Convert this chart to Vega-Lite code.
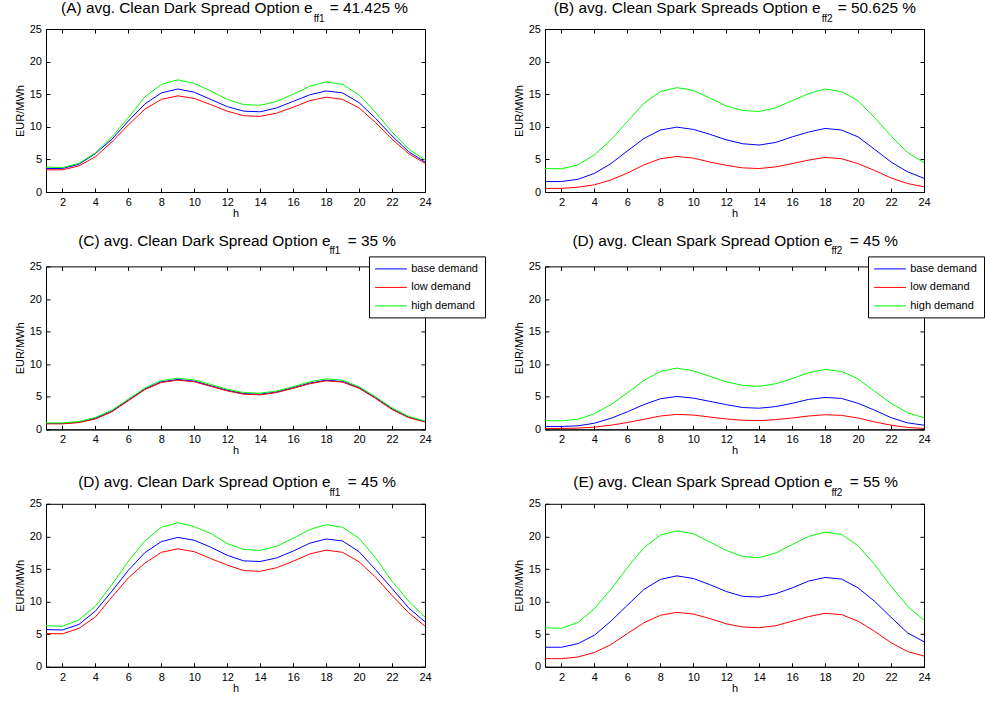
{
"$schema":"https://vega.github.io/schema/vega-lite/v6.json",
"background":"white",
"padding":{"left":13,"top":0,"right":5,"bottom":5},
"config":{
 "font":"Liberation Sans",
 "view":{"stroke":"black","strokeWidth":1},
 "title":{"anchor":"end","frame":"group","fontSize":15.4,"fontWeight":"normal","subtitleFontSize":10,"subtitlePadding":-2.5,"offset":-0.5,"color":"black","subtitleColor":"black","font":"Liberation Sans","subtitleFont":"Liberation Sans"},
 "axis":{"labelFontSize":11,"labelColor":"black","titleFontSize":11,"titleFontWeight":"normal","titleColor":"black","tickColor":"black","domainColor":"black","tickSize":-4,"labelPadding":8.5,"grid":false,"labelFlush":false,"labelFont":"Liberation Sans","titleFont":"Liberation Sans"},
 "axisX":{"titlePadding":0},
 "axisY":{"titlePadding":4},
 "line":{"strokeWidth":1}
},
"columns":2,
"spacing":{"row":74.4,"column":120},
"bounds":"flush",
"resolve":{"scale":{"color":"independent"},"legend":{"color":"independent"}},
"concat":[
{
 "width":379,"height":163,
 "title":{"text":"(A) avg. Clean Dark Spread Option e\u00a0\u00a0\u00a0\u00a0= 41.425 %","subtitle":"ff1\u00a0\u00a0\u00a0\u00a0\u00a0\u00a0\u00a0\u00a0\u00a0\u00a0\u00a0\u00a0\u00a0\u00a0\u00a0\u00a0\u00a0\u00a0\u00a0\u00a0\u00a0\u00a0\u00a0\u00a0\u00a0\u00a0\u00a0\u00a0\u00a0\u00a0\u200b","dx":-17},
 "data":{"values":[
{"h":1,"s":"base demand","v":3.6},{"h":2,"s":"base demand","v":3.6},{"h":3,"s":"base demand","v":4.25},{"h":4,"s":"base demand","v":5.9},{"h":5,"s":"base demand","v":8.1},{"h":6,"s":"base demand","v":10.9},{"h":7,"s":"base demand","v":13.5},{"h":8,"s":"base demand","v":15.2},{"h":9,"s":"base demand","v":15.8},{"h":10,"s":"base demand","v":15.3},{"h":11,"s":"base demand","v":14.2},{"h":12,"s":"base demand","v":13.1},{"h":13,"s":"base demand","v":12.4},{"h":14,"s":"base demand","v":12.3},{"h":15,"s":"base demand","v":12.9},{"h":16,"s":"base demand","v":13.9},{"h":17,"s":"base demand","v":14.9},{"h":18,"s":"base demand","v":15.5},{"h":19,"s":"base demand","v":15.2},{"h":20,"s":"base demand","v":13.7},{"h":21,"s":"base demand","v":11.3},{"h":22,"s":"base demand","v":8.6},{"h":23,"s":"base demand","v":6.2},{"h":24,"s":"base demand","v":4.6},
{"h":1,"s":"low demand","v":3.4},{"h":2,"s":"low demand","v":3.4},{"h":3,"s":"low demand","v":4.0},{"h":4,"s":"low demand","v":5.4},{"h":5,"s":"low demand","v":7.7},{"h":6,"s":"low demand","v":10.3},{"h":7,"s":"low demand","v":12.7},{"h":8,"s":"low demand","v":14.2},{"h":9,"s":"low demand","v":14.75},{"h":10,"s":"low demand","v":14.35},{"h":11,"s":"low demand","v":13.4},{"h":12,"s":"low demand","v":12.4},{"h":13,"s":"low demand","v":11.7},{"h":14,"s":"low demand","v":11.6},{"h":15,"s":"low demand","v":12.1},{"h":16,"s":"low demand","v":13.0},{"h":17,"s":"low demand","v":14.0},{"h":18,"s":"low demand","v":14.55},{"h":19,"s":"low demand","v":14.2},{"h":20,"s":"low demand","v":12.9},{"h":21,"s":"low demand","v":10.65},{"h":22,"s":"low demand","v":8.1},{"h":23,"s":"low demand","v":5.9},{"h":24,"s":"low demand","v":4.4},
{"h":1,"s":"high demand","v":3.84},{"h":2,"s":"high demand","v":3.74},{"h":3,"s":"high demand","v":4.4},{"h":4,"s":"high demand","v":6.0},{"h":5,"s":"high demand","v":8.45},{"h":6,"s":"high demand","v":11.4},{"h":7,"s":"high demand","v":14.6},{"h":8,"s":"high demand","v":16.5},{"h":9,"s":"high demand","v":17.2},{"h":10,"s":"high demand","v":16.65},{"h":11,"s":"high demand","v":15.5},{"h":12,"s":"high demand","v":14.2},{"h":13,"s":"high demand","v":13.4},{"h":14,"s":"high demand","v":13.3},{"h":15,"s":"high demand","v":13.9},{"h":16,"s":"high demand","v":15.0},{"h":17,"s":"high demand","v":16.2},{"h":18,"s":"high demand","v":16.9},{"h":19,"s":"high demand","v":16.5},{"h":20,"s":"high demand","v":14.9},{"h":21,"s":"high demand","v":12.2},{"h":22,"s":"high demand","v":9.2},{"h":23,"s":"high demand","v":6.6},{"h":24,"s":"high demand","v":4.9}
 ]},
 "layer":[
  {"mark":{"type":"line","strokeWidth":1},
   "encoding":{
    "x":{"field":"h","type":"quantitative","scale":{"domain":[1,24],"nice":false,"zero":false},"axis":{"values":[2,4,6,8,10,12,14,16,18,20,22,24],"title":"h"}},
    "y":{"field":"v","type":"quantitative","scale":{"domain":[0,25],"nice":false},"axis":{"values":[0,5,10,15,20,25],"title":"EUR/MWh"}},
    "color":{"field":"s","type":"nominal","scale":{"domain":["base demand","low demand","high demand"],"range":["#0000ff","#ff0000","#00ff00"]},"legend":null}}},
  {"mark":{"type":"line","opacity":0},
   "encoding":{
    "x":{"field":"h","type":"quantitative","axis":{"orient":"top","values":[2,4,6,8,10,12,14,16,18,20,22,24],"labels":false,"title":null,"domain":false}},
    "y":{"field":"v","type":"quantitative","axis":{"orient":"right","values":[0,5,10,15,20,25],"labels":false,"title":null,"domain":false}}}}
 ],
 "resolve":{"axis":{"x":"independent","y":"independent"}}
},
{
 "width":379,"height":163,
 "title":{"text":"(B) avg. Clean Spark Spreads Option e\u00a0\u00a0\u00a0\u00a0= 50.625 %","subtitle":"ff2\u00a0\u00a0\u00a0\u00a0\u00a0\u00a0\u00a0\u00a0\u00a0\u00a0\u00a0\u00a0\u00a0\u00a0\u00a0\u00a0\u00a0\u00a0\u00a0\u00a0\u00a0\u00a0\u00a0\u00a0\u00a0\u00a0\u00a0\u00a0\u00a0\u00a0\u200b","dx":-8},
 "data":{"values":[
{"h":1,"s":"base demand","v":1.6},{"h":2,"s":"base demand","v":1.6},{"h":3,"s":"base demand","v":1.95},{"h":4,"s":"base demand","v":2.85},{"h":5,"s":"base demand","v":4.35},{"h":6,"s":"base demand","v":6.3},{"h":7,"s":"base demand","v":8.2},{"h":8,"s":"base demand","v":9.5},{"h":9,"s":"base demand","v":9.95},{"h":10,"s":"base demand","v":9.6},{"h":11,"s":"base demand","v":8.85},{"h":12,"s":"base demand","v":8.0},{"h":13,"s":"base demand","v":7.4},{"h":14,"s":"base demand","v":7.2},{"h":15,"s":"base demand","v":7.6},{"h":16,"s":"base demand","v":8.45},{"h":17,"s":"base demand","v":9.2},{"h":18,"s":"base demand","v":9.75},{"h":19,"s":"base demand","v":9.5},{"h":20,"s":"base demand","v":8.45},{"h":21,"s":"base demand","v":6.55},{"h":22,"s":"base demand","v":4.6},{"h":23,"s":"base demand","v":3.1},{"h":24,"s":"base demand","v":2.1},
{"h":1,"s":"low demand","v":0.55},{"h":2,"s":"low demand","v":0.55},{"h":3,"s":"low demand","v":0.75},{"h":4,"s":"low demand","v":1.1},{"h":5,"s":"low demand","v":1.85},{"h":6,"s":"low demand","v":2.9},{"h":7,"s":"low demand","v":4.15},{"h":8,"s":"low demand","v":5.1},{"h":9,"s":"low demand","v":5.45},{"h":10,"s":"low demand","v":5.2},{"h":11,"s":"low demand","v":4.6},{"h":12,"s":"low demand","v":4.1},{"h":13,"s":"low demand","v":3.7},{"h":14,"s":"low demand","v":3.6},{"h":15,"s":"low demand","v":3.85},{"h":16,"s":"low demand","v":4.35},{"h":17,"s":"low demand","v":4.9},{"h":18,"s":"low demand","v":5.3},{"h":19,"s":"low demand","v":5.1},{"h":20,"s":"low demand","v":4.35},{"h":21,"s":"low demand","v":3.3},{"h":22,"s":"low demand","v":2.15},{"h":23,"s":"low demand","v":1.3},{"h":24,"s":"low demand","v":0.8},
{"h":1,"s":"high demand","v":3.6},{"h":2,"s":"high demand","v":3.55},{"h":3,"s":"high demand","v":4.15},{"h":4,"s":"high demand","v":5.7},{"h":5,"s":"high demand","v":8.0},{"h":6,"s":"high demand","v":10.8},{"h":7,"s":"high demand","v":13.6},{"h":8,"s":"high demand","v":15.4},{"h":9,"s":"high demand","v":16.0},{"h":10,"s":"high demand","v":15.6},{"h":11,"s":"high demand","v":14.4},{"h":12,"s":"high demand","v":13.2},{"h":13,"s":"high demand","v":12.5},{"h":14,"s":"high demand","v":12.35},{"h":15,"s":"high demand","v":12.9},{"h":16,"s":"high demand","v":14.0},{"h":17,"s":"high demand","v":15.1},{"h":18,"s":"high demand","v":15.8},{"h":19,"s":"high demand","v":15.4},{"h":20,"s":"high demand","v":14.0},{"h":21,"s":"high demand","v":11.4},{"h":22,"s":"high demand","v":8.6},{"h":23,"s":"high demand","v":6.05},{"h":24,"s":"high demand","v":4.5}
 ]},
 "layer":[
  {"mark":{"type":"line","strokeWidth":1},
   "encoding":{
    "x":{"field":"h","type":"quantitative","scale":{"domain":[1,24],"nice":false,"zero":false},"axis":{"values":[2,4,6,8,10,12,14,16,18,20,22,24],"title":"h"}},
    "y":{"field":"v","type":"quantitative","scale":{"domain":[0,25],"nice":false},"axis":{"values":[0,5,10,15,20,25],"title":"EUR/MWh"}},
    "color":{"field":"s","type":"nominal","scale":{"domain":["base demand","low demand","high demand"],"range":["#0000ff","#ff0000","#00ff00"]},"legend":null}}},
  {"mark":{"type":"line","opacity":0},
   "encoding":{
    "x":{"field":"h","type":"quantitative","axis":{"orient":"top","values":[2,4,6,8,10,12,14,16,18,20,22,24],"labels":false,"title":null,"domain":false}},
    "y":{"field":"v","type":"quantitative","axis":{"orient":"right","values":[0,5,10,15,20,25],"labels":false,"title":null,"domain":false}}}}
 ],
 "resolve":{"axis":{"x":"independent","y":"independent"}}
},
{
 "width":379,"height":163,
 "title":{"text":"(C) avg. Clean Dark Spread Option e\u00a0\u00a0\u00a0\u00a0= 35 %","subtitle":"ff1\u00a0\u00a0\u00a0\u00a0\u00a0\u00a0\u00a0\u00a0\u00a0\u00a0\u00a0\u00a0\u00a0\u00a0\u00a0\u00a0\u00a0\u00a0\u00a0\u00a0\u200b","dx":-29},
 "data":{"values":[
{"h":1,"s":"base demand","v":0.9},{"h":2,"s":"base demand","v":0.9},{"h":3,"s":"base demand","v":1.1},{"h":4,"s":"base demand","v":1.7},{"h":5,"s":"base demand","v":2.8},{"h":6,"s":"base demand","v":4.5},{"h":7,"s":"base demand","v":6.2},{"h":8,"s":"base demand","v":7.3},{"h":9,"s":"base demand","v":7.65},{"h":10,"s":"base demand","v":7.4},{"h":11,"s":"base demand","v":6.7},{"h":12,"s":"base demand","v":6.0},{"h":13,"s":"base demand","v":5.5},{"h":14,"s":"base demand","v":5.4},{"h":15,"s":"base demand","v":5.75},{"h":16,"s":"base demand","v":6.4},{"h":17,"s":"base demand","v":7.1},{"h":18,"s":"base demand","v":7.55},{"h":19,"s":"base demand","v":7.35},{"h":20,"s":"base demand","v":6.4},{"h":21,"s":"base demand","v":4.85},{"h":22,"s":"base demand","v":3.15},{"h":23,"s":"base demand","v":1.9},{"h":24,"s":"base demand","v":1.2},
{"h":1,"s":"low demand","v":0.85},{"h":2,"s":"low demand","v":0.85},{"h":3,"s":"low demand","v":1.05},{"h":4,"s":"low demand","v":1.6},{"h":5,"s":"low demand","v":2.7},{"h":6,"s":"low demand","v":4.4},{"h":7,"s":"low demand","v":6.1},{"h":8,"s":"low demand","v":7.2},{"h":9,"s":"low demand","v":7.55},{"h":10,"s":"low demand","v":7.3},{"h":11,"s":"low demand","v":6.6},{"h":12,"s":"low demand","v":5.9},{"h":13,"s":"low demand","v":5.4},{"h":14,"s":"low demand","v":5.3},{"h":15,"s":"low demand","v":5.65},{"h":16,"s":"low demand","v":6.3},{"h":17,"s":"low demand","v":7.0},{"h":18,"s":"low demand","v":7.45},{"h":19,"s":"low demand","v":7.25},{"h":20,"s":"low demand","v":6.3},{"h":21,"s":"low demand","v":4.75},{"h":22,"s":"low demand","v":3.05},{"h":23,"s":"low demand","v":1.8},{"h":24,"s":"low demand","v":1.15},
{"h":1,"s":"high demand","v":1.0},{"h":2,"s":"high demand","v":1.0},{"h":3,"s":"high demand","v":1.2},{"h":4,"s":"high demand","v":1.85},{"h":5,"s":"high demand","v":2.95},{"h":6,"s":"high demand","v":4.65},{"h":7,"s":"high demand","v":6.35},{"h":8,"s":"high demand","v":7.5},{"h":9,"s":"high demand","v":7.85},{"h":10,"s":"high demand","v":7.6},{"h":11,"s":"high demand","v":6.9},{"h":12,"s":"high demand","v":6.15},{"h":13,"s":"high demand","v":5.65},{"h":14,"s":"high demand","v":5.55},{"h":15,"s":"high demand","v":5.9},{"h":16,"s":"high demand","v":6.55},{"h":17,"s":"high demand","v":7.3},{"h":18,"s":"high demand","v":7.75},{"h":19,"s":"high demand","v":7.55},{"h":20,"s":"high demand","v":6.55},{"h":21,"s":"high demand","v":5.0},{"h":22,"s":"high demand","v":3.3},{"h":23,"s":"high demand","v":2.0},{"h":24,"s":"high demand","v":1.3}
 ]},
 "layer":[
  {"mark":{"type":"line","strokeWidth":1},
   "encoding":{
    "x":{"field":"h","type":"quantitative","scale":{"domain":[1,24],"nice":false,"zero":false},"axis":{"values":[2,4,6,8,10,12,14,16,18,20,22,24],"title":"h"}},
    "y":{"field":"v","type":"quantitative","scale":{"domain":[0,25],"nice":false},"axis":{"values":[0,5,10,15,20,25],"title":"EUR/MWh"}},
    "color":{"field":"s","type":"nominal","scale":{"domain":["base demand","low demand","high demand"],"range":["#0000ff","#ff0000","#00ff00"]},
     "legend":{"orient":"none","legendX":323,"legendY":-10,"title":null,"strokeColor":"black","fillColor":"white","padding":6.5,"symbolType":"M-2.9,0H2.9","symbolSize":121,"symbolStrokeWidth":1,"symbolOffset":9.5,"labelFontSize":11,"labelOffset":14.2,"rowPadding":7.5,"labelColor":"black","cornerRadius":0}}}},
  {"mark":{"type":"line","opacity":0},
   "encoding":{
    "x":{"field":"h","type":"quantitative","axis":{"orient":"top","values":[2,4,6,8,10,12,14,16,18,20,22,24],"labels":false,"title":null,"domain":false}},
    "y":{"field":"v","type":"quantitative","axis":{"orient":"right","values":[0,5,10,15,20,25],"labels":false,"title":null,"domain":false}}}}
 ],
 "resolve":{"axis":{"x":"independent","y":"independent"}}
},
{
 "width":379,"height":163,
 "title":{"text":"(D) avg. Clean Spark Spread Option e\u00a0\u00a0\u00a0\u00a0= 45 %","subtitle":"ff2\u00a0\u00a0\u00a0\u00a0\u00a0\u00a0\u00a0\u00a0\u00a0\u00a0\u00a0\u00a0\u00a0\u00a0\u00a0\u00a0\u00a0\u00a0\u00a0\u00a0\u200b","dx":-26},
 "data":{"values":[
{"h":1,"s":"base demand","v":0.45},{"h":2,"s":"base demand","v":0.45},{"h":3,"s":"base demand","v":0.55},{"h":4,"s":"base demand","v":0.95},{"h":5,"s":"base demand","v":1.7},{"h":6,"s":"base demand","v":2.7},{"h":7,"s":"base demand","v":3.8},{"h":8,"s":"base demand","v":4.7},{"h":9,"s":"base demand","v":5.05},{"h":10,"s":"base demand","v":4.8},{"h":11,"s":"base demand","v":4.3},{"h":12,"s":"base demand","v":3.8},{"h":13,"s":"base demand","v":3.35},{"h":14,"s":"base demand","v":3.25},{"h":15,"s":"base demand","v":3.5},{"h":16,"s":"base demand","v":4.0},{"h":17,"s":"base demand","v":4.6},{"h":18,"s":"base demand","v":4.9},{"h":19,"s":"base demand","v":4.75},{"h":20,"s":"base demand","v":4.0},{"h":21,"s":"base demand","v":2.95},{"h":22,"s":"base demand","v":1.8},{"h":23,"s":"base demand","v":1.0},{"h":24,"s":"base demand","v":0.65},
{"h":1,"s":"low demand","v":0.15},{"h":2,"s":"low demand","v":0.15},{"h":3,"s":"low demand","v":0.2},{"h":4,"s":"low demand","v":0.35},{"h":5,"s":"low demand","v":0.65},{"h":6,"s":"low demand","v":1.05},{"h":7,"s":"low demand","v":1.55},{"h":8,"s":"low demand","v":2.05},{"h":9,"s":"low demand","v":2.3},{"h":10,"s":"low demand","v":2.2},{"h":11,"s":"low demand","v":1.9},{"h":12,"s":"low demand","v":1.6},{"h":13,"s":"low demand","v":1.4},{"h":14,"s":"low demand","v":1.35},{"h":15,"s":"low demand","v":1.5},{"h":16,"s":"low demand","v":1.75},{"h":17,"s":"low demand","v":2.05},{"h":18,"s":"low demand","v":2.25},{"h":19,"s":"low demand","v":2.15},{"h":20,"s":"low demand","v":1.75},{"h":21,"s":"low demand","v":1.15},{"h":22,"s":"low demand","v":0.65},{"h":23,"s":"low demand","v":0.3},{"h":24,"s":"low demand","v":0.15},
{"h":1,"s":"high demand","v":1.35},{"h":2,"s":"high demand","v":1.3},{"h":3,"s":"high demand","v":1.55},{"h":4,"s":"high demand","v":2.4},{"h":5,"s":"high demand","v":3.8},{"h":6,"s":"high demand","v":5.6},{"h":7,"s":"high demand","v":7.5},{"h":8,"s":"high demand","v":8.9},{"h":9,"s":"high demand","v":9.4},{"h":10,"s":"high demand","v":9.0},{"h":11,"s":"high demand","v":8.15},{"h":12,"s":"high demand","v":7.3},{"h":13,"s":"high demand","v":6.75},{"h":14,"s":"high demand","v":6.6},{"h":15,"s":"high demand","v":7.0},{"h":16,"s":"high demand","v":7.8},{"h":17,"s":"high demand","v":8.7},{"h":18,"s":"high demand","v":9.2},{"h":19,"s":"high demand","v":8.9},{"h":20,"s":"high demand","v":7.75},{"h":21,"s":"high demand","v":5.85},{"h":22,"s":"high demand","v":4.0},{"h":23,"s":"high demand","v":2.55},{"h":24,"s":"high demand","v":1.8}
 ]},
 "layer":[
  {"mark":{"type":"line","strokeWidth":1},
   "encoding":{
    "x":{"field":"h","type":"quantitative","scale":{"domain":[1,24],"nice":false,"zero":false},"axis":{"values":[2,4,6,8,10,12,14,16,18,20,22,24],"title":"h"}},
    "y":{"field":"v","type":"quantitative","scale":{"domain":[0,25],"nice":false},"axis":{"values":[0,5,10,15,20,25],"title":"EUR/MWh"}},
    "color":{"field":"s","type":"nominal","scale":{"domain":["base demand","low demand","high demand"],"range":["#0000ff","#ff0000","#00ff00"]},
     "legend":{"orient":"none","legendX":323,"legendY":-10,"title":null,"strokeColor":"black","fillColor":"white","padding":6.5,"symbolType":"M-2.9,0H2.9","symbolSize":121,"symbolStrokeWidth":1,"symbolOffset":9.5,"labelFontSize":11,"labelOffset":14.2,"rowPadding":7.5,"labelColor":"black","cornerRadius":0}}}},
  {"mark":{"type":"line","opacity":0},
   "encoding":{
    "x":{"field":"h","type":"quantitative","axis":{"orient":"top","values":[2,4,6,8,10,12,14,16,18,20,22,24],"labels":false,"title":null,"domain":false}},
    "y":{"field":"v","type":"quantitative","axis":{"orient":"right","values":[0,5,10,15,20,25],"labels":false,"title":null,"domain":false}}}}
 ],
 "resolve":{"axis":{"x":"independent","y":"independent"}}
},
{
 "width":379,"height":163,
 "title":{"text":"(D) avg. Clean Dark Spread Option e\u00a0\u00a0\u00a0\u00a0= 45 %","subtitle":"ff1\u00a0\u00a0\u00a0\u00a0\u00a0\u00a0\u00a0\u00a0\u00a0\u00a0\u00a0\u00a0\u00a0\u00a0\u00a0\u00a0\u00a0\u00a0\u00a0\u00a0\u200b","dx":-29},
 "data":{"values":[
{"h":1,"s":"base demand","v":5.7},{"h":2,"s":"base demand","v":5.65},{"h":3,"s":"base demand","v":6.5},{"h":4,"s":"base demand","v":8.55},{"h":5,"s":"base demand","v":11.6},{"h":6,"s":"base demand","v":14.8},{"h":7,"s":"base demand","v":17.5},{"h":8,"s":"base demand","v":19.2},{"h":9,"s":"base demand","v":19.85},{"h":10,"s":"base demand","v":19.4},{"h":11,"s":"base demand","v":18.35},{"h":12,"s":"base demand","v":17.1},{"h":13,"s":"base demand","v":16.25},{"h":14,"s":"base demand","v":16.15},{"h":15,"s":"base demand","v":16.7},{"h":16,"s":"base demand","v":17.75},{"h":17,"s":"base demand","v":18.95},{"h":18,"s":"base demand","v":19.6},{"h":19,"s":"base demand","v":19.3},{"h":20,"s":"base demand","v":17.65},{"h":21,"s":"base demand","v":14.9},{"h":22,"s":"base demand","v":12.0},{"h":23,"s":"base demand","v":9.05},{"h":24,"s":"base demand","v":6.9},
{"h":1,"s":"low demand","v":5.1},{"h":2,"s":"low demand","v":5.05},{"h":3,"s":"low demand","v":5.9},{"h":4,"s":"low demand","v":7.65},{"h":5,"s":"low demand","v":10.7},{"h":6,"s":"low demand","v":13.65},{"h":7,"s":"low demand","v":15.9},{"h":8,"s":"low demand","v":17.55},{"h":9,"s":"low demand","v":18.1},{"h":10,"s":"low demand","v":17.65},{"h":11,"s":"low demand","v":16.6},{"h":12,"s":"low demand","v":15.6},{"h":13,"s":"low demand","v":14.75},{"h":14,"s":"low demand","v":14.65},{"h":15,"s":"low demand","v":15.2},{"h":16,"s":"low demand","v":16.2},{"h":17,"s":"low demand","v":17.3},{"h":18,"s":"low demand","v":17.9},{"h":19,"s":"low demand","v":17.55},{"h":20,"s":"low demand","v":16.1},{"h":21,"s":"low demand","v":13.75},{"h":22,"s":"low demand","v":10.95},{"h":23,"s":"low demand","v":8.3},{"h":24,"s":"low demand","v":6.25},
{"h":1,"s":"high demand","v":6.3},{"h":2,"s":"high demand","v":6.2},{"h":3,"s":"high demand","v":7.2},{"h":4,"s":"high demand","v":9.3},{"h":5,"s":"high demand","v":12.6},{"h":6,"s":"high demand","v":16.2},{"h":7,"s":"high demand","v":19.3},{"h":8,"s":"high demand","v":21.4},{"h":9,"s":"high demand","v":22.1},{"h":10,"s":"high demand","v":21.5},{"h":11,"s":"high demand","v":20.45},{"h":12,"s":"high demand","v":18.9},{"h":13,"s":"high demand","v":18.0},{"h":14,"s":"high demand","v":17.85},{"h":15,"s":"high demand","v":18.5},{"h":16,"s":"high demand","v":19.7},{"h":17,"s":"high demand","v":21.05},{"h":18,"s":"high demand","v":21.8},{"h":19,"s":"high demand","v":21.4},{"h":20,"s":"high demand","v":19.7},{"h":21,"s":"high demand","v":16.7},{"h":22,"s":"high demand","v":13.1},{"h":23,"s":"high demand","v":10.1},{"h":24,"s":"high demand","v":7.6}
 ]},
 "layer":[
  {"mark":{"type":"line","strokeWidth":1},
   "encoding":{
    "x":{"field":"h","type":"quantitative","scale":{"domain":[1,24],"nice":false,"zero":false},"axis":{"values":[2,4,6,8,10,12,14,16,18,20,22,24],"title":"h"}},
    "y":{"field":"v","type":"quantitative","scale":{"domain":[0,25],"nice":false},"axis":{"values":[0,5,10,15,20,25],"title":"EUR/MWh"}},
    "color":{"field":"s","type":"nominal","scale":{"domain":["base demand","low demand","high demand"],"range":["#0000ff","#ff0000","#00ff00"]},"legend":null}}},
  {"mark":{"type":"line","opacity":0},
   "encoding":{
    "x":{"field":"h","type":"quantitative","axis":{"orient":"top","values":[2,4,6,8,10,12,14,16,18,20,22,24],"labels":false,"title":null,"domain":false}},
    "y":{"field":"v","type":"quantitative","axis":{"orient":"right","values":[0,5,10,15,20,25],"labels":false,"title":null,"domain":false}}}}
 ],
 "resolve":{"axis":{"x":"independent","y":"independent"}}
},
{
 "width":379,"height":163,
 "title":{"text":"(E) avg. Clean Spark Spread Option e\u00a0\u00a0\u00a0\u00a0= 55 %","subtitle":"ff2\u00a0\u00a0\u00a0\u00a0\u00a0\u00a0\u00a0\u00a0\u00a0\u00a0\u00a0\u00a0\u00a0\u00a0\u00a0\u00a0\u00a0\u00a0\u00a0\u00a0\u200b","dx":-26},
 "data":{"values":[
{"h":1,"s":"base demand","v":3.0},{"h":2,"s":"base demand","v":3.0},{"h":3,"s":"base demand","v":3.55},{"h":4,"s":"base demand","v":4.85},{"h":5,"s":"base demand","v":7.0},{"h":6,"s":"base demand","v":9.45},{"h":7,"s":"base demand","v":11.85},{"h":8,"s":"base demand","v":13.4},{"h":9,"s":"base demand","v":13.95},{"h":10,"s":"base demand","v":13.55},{"h":11,"s":"base demand","v":12.6},{"h":12,"s":"base demand","v":11.55},{"h":13,"s":"base demand","v":10.8},{"h":14,"s":"base demand","v":10.7},{"h":15,"s":"base demand","v":11.2},{"h":16,"s":"base demand","v":12.1},{"h":17,"s":"base demand","v":13.15},{"h":18,"s":"base demand","v":13.7},{"h":19,"s":"base demand","v":13.45},{"h":20,"s":"base demand","v":12.1},{"h":21,"s":"base demand","v":10.05},{"h":22,"s":"base demand","v":7.6},{"h":23,"s":"base demand","v":5.2},{"h":24,"s":"base demand","v":3.85},
{"h":1,"s":"low demand","v":1.25},{"h":2,"s":"low demand","v":1.25},{"h":3,"s":"low demand","v":1.5},{"h":4,"s":"low demand","v":2.2},{"h":5,"s":"low demand","v":3.4},{"h":6,"s":"low demand","v":5.1},{"h":7,"s":"low demand","v":6.75},{"h":8,"s":"low demand","v":7.9},{"h":9,"s":"low demand","v":8.35},{"h":10,"s":"low demand","v":8.1},{"h":11,"s":"low demand","v":7.4},{"h":12,"s":"low demand","v":6.6},{"h":13,"s":"low demand","v":6.1},{"h":14,"s":"low demand","v":6.0},{"h":15,"s":"low demand","v":6.3},{"h":16,"s":"low demand","v":7.0},{"h":17,"s":"low demand","v":7.7},{"h":18,"s":"low demand","v":8.2},{"h":19,"s":"low demand","v":8.0},{"h":20,"s":"low demand","v":7.0},{"h":21,"s":"low demand","v":5.45},{"h":22,"s":"low demand","v":3.7},{"h":23,"s":"low demand","v":2.35},{"h":24,"s":"low demand","v":1.65},
{"h":1,"s":"high demand","v":6.0},{"h":2,"s":"high demand","v":5.9},{"h":3,"s":"high demand","v":6.8},{"h":4,"s":"high demand","v":8.9},{"h":5,"s":"high demand","v":11.9},{"h":6,"s":"high demand","v":15.2},{"h":7,"s":"high demand","v":18.25},{"h":8,"s":"high demand","v":20.2},{"h":9,"s":"high demand","v":20.85},{"h":10,"s":"high demand","v":20.4},{"h":11,"s":"high demand","v":19.15},{"h":12,"s":"high demand","v":17.85},{"h":13,"s":"high demand","v":16.9},{"h":14,"s":"high demand","v":16.75},{"h":15,"s":"high demand","v":17.45},{"h":16,"s":"high demand","v":18.75},{"h":17,"s":"high demand","v":20.0},{"h":18,"s":"high demand","v":20.65},{"h":19,"s":"high demand","v":20.3},{"h":20,"s":"high demand","v":18.55},{"h":21,"s":"high demand","v":15.7},{"h":22,"s":"high demand","v":12.35},{"h":23,"s":"high demand","v":9.3},{"h":24,"s":"high demand","v":7.15}
 ]},
 "layer":[
  {"mark":{"type":"line","strokeWidth":1},
   "encoding":{
    "x":{"field":"h","type":"quantitative","scale":{"domain":[1,24],"nice":false,"zero":false},"axis":{"values":[2,4,6,8,10,12,14,16,18,20,22,24],"title":"h"}},
    "y":{"field":"v","type":"quantitative","scale":{"domain":[0,25],"nice":false},"axis":{"values":[0,5,10,15,20,25],"title":"EUR/MWh"}},
    "color":{"field":"s","type":"nominal","scale":{"domain":["base demand","low demand","high demand"],"range":["#0000ff","#ff0000","#00ff00"]},"legend":null}}},
  {"mark":{"type":"line","opacity":0},
   "encoding":{
    "x":{"field":"h","type":"quantitative","axis":{"orient":"top","values":[2,4,6,8,10,12,14,16,18,20,22,24],"labels":false,"title":null,"domain":false}},
    "y":{"field":"v","type":"quantitative","axis":{"orient":"right","values":[0,5,10,15,20,25],"labels":false,"title":null,"domain":false}}}}
 ],
 "resolve":{"axis":{"x":"independent","y":"independent"}}
}
]
}
